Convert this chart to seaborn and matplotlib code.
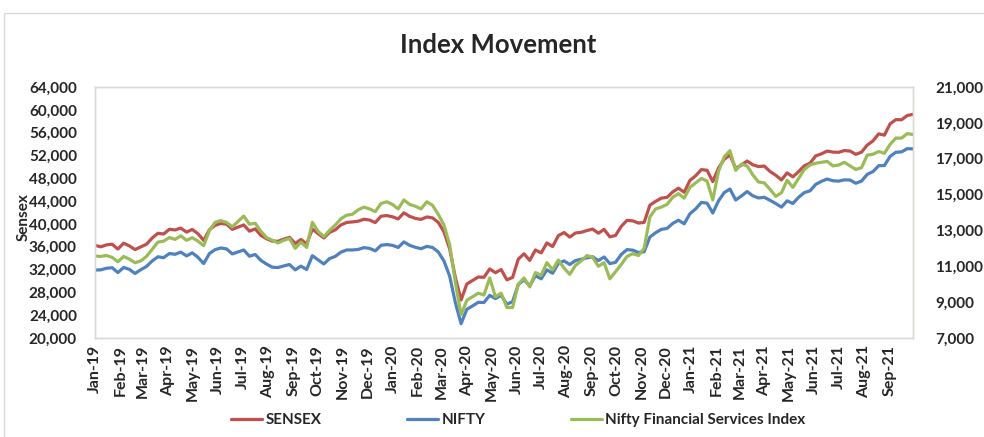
import pandas as pd
import matplotlib
matplotlib.use('Agg')
import matplotlib.pyplot as plt
import matplotlib.dates as mdates
from matplotlib.patches import Rectangle
from matplotlib.ticker import FuncFormatter, FixedLocator
import seaborn as sns

# weekly closing levels, Jan-2019 .. Sep-2021
sensex = [36250, 35980, 36320, 36440, 35590, 36620, 36150, 35500, 35970, 36440,
          37530, 38360, 38230, 39060, 38940, 39270, 38560, 39030, 38280, 37090,
          38970, 39750, 40080, 39950, 39050, 39430, 39820, 38730, 39130, 37980,
          37400, 36980, 36960, 37330, 37640, 36560, 37270, 36480, 39090, 38310,
          37530, 38510, 38960, 39830, 40250, 40350, 40470, 40820, 40680, 40240,
          41350, 41460, 41250, 40870, 41950, 41320, 40970, 40790, 41220, 41060,
          40280, 38620, 35630, 30580, 26670, 29470, 30070, 30690, 30640, 32110,
          31450, 32000, 30200, 30610, 33830, 34760, 33600, 35430, 34920, 36670,
          36030, 37930, 38490, 37690, 38410, 38530, 38840, 39090, 38370, 39040,
          37730, 37980, 39570, 40630, 40540, 40150, 40260, 43280, 43950, 44520,
          44650, 45610, 46260, 45550, 47610, 48440, 49520, 49400, 47410, 49800,
          51330, 52100, 49750, 50300, 51030, 50360, 50050, 50140, 49200, 48540,
          47710, 48940, 48250, 49160, 50190, 50640, 51930, 52280, 52770, 52590,
          52550, 52860, 52770, 52200, 52580, 53820, 54550, 55790, 55560, 57550,
          58280, 58250, 59010, 59200]

nifty = [10790, 10800, 10890, 10920, 10650, 10930, 10830, 10600, 10810, 10990,
         11300, 11530, 11480, 11710, 11670, 11790, 11580, 11750, 11500, 11150,
         11710, 11930, 12020, 11970, 11690, 11800, 11910, 11560, 11660, 11330,
         11120, 10950, 10930, 11020, 11100, 10800, 11010, 10820, 11590, 11360,
         11130, 11430, 11550, 11790, 11910, 11910, 11940, 12040, 12000, 11860,
         12170, 12210, 12170, 12050, 12360, 12170, 12060, 11980, 12110, 12050,
         11800, 11300, 10450, 8970, 7800, 8600, 8790, 8990, 8980, 9380,
         9200, 9380, 8880, 9030, 9980, 10250, 9910, 10470, 10300, 10800,
         10610, 11160, 11300, 11100, 11320, 11390, 11470, 11530, 11320, 11520,
         11150, 11220, 11660, 11930, 11900, 11770, 11810, 12630, 12870, 13060,
         13110, 13390, 13570, 13370, 13930, 14200, 14560, 14520, 13970, 14650,
         15110, 15310, 14700, 14920, 15170, 14930, 14810, 14850, 14680, 14500,
         14300, 14650, 14500, 14850, 15110, 15210, 15570, 15740, 15870, 15770,
         15750, 15820, 15810, 15630, 15750, 16130, 16280, 16610, 16620, 17130,
         17360, 17380, 17560, 17550]

nifty_fin = [11570, 11550, 11600, 11500, 11250, 11550, 11400, 11200, 11300, 11550,
             11950, 12350, 12400, 12600, 12500, 12700, 12450, 12600, 12400, 12150,
             13000, 13450, 13550, 13450, 13200, 13500, 13800, 13350, 13400, 12950,
             12600, 12450, 12300, 12450, 12550, 12000, 12350, 12050, 13450, 12950,
             12650, 13000, 13300, 13650, 13850, 13900, 14150, 14300, 14200, 14050,
             14500, 14600, 14450, 14200, 14700, 14450, 14350, 14200, 14600, 14400,
             13900, 13300, 12200, 10100, 8300, 9100, 9300, 9500, 9400, 10350,
             9300, 9500, 8700, 8700, 10000, 10350, 9850, 10650, 10500, 11200,
             10800, 11350, 10900, 10550, 11050, 11300, 11600, 11500, 11000, 11200,
             10300, 10700, 11100, 11550, 11700, 11600, 12000, 13750, 14200, 14300,
             14450, 14850, 15050, 14800, 15400, 15650, 15900, 15750, 14700, 16300,
             17100, 17450, 16350, 16700, 16600, 16100, 15700, 15650, 15300, 14900,
             15100, 15800, 15400, 15900, 16400, 16650, 16750, 16800, 16850, 16600,
             16650, 16800, 16600, 16400, 16500, 17200, 17250, 17400, 17300, 17800,
             18150, 18150, 18400, 18350]

sensex_ticks = list(range(20000, 64001, 4000))
nifty_ticks = list(range(7000, 21001, 2000))

dates = pd.date_range('2019-01-01', '2021-09-30', periods=len(sensex))

df = pd.DataFrame({'date': dates, 'SENSEX': sensex, 'NIFTY': nifty,
                   'Nifty Financial Services Index': nifty_fin})

sns.set_style('white')
plt.rcParams['font.family'] = ['Lato', 'DejaVu Sans']
plt.rcParams['font.weight'] = 'bold'

red, blue, green = '#c0504d', '#4f81bd', '#9bbb59'
lw = 2.3

fig = plt.figure(figsize=(9.84, 4.37), dpi=100)
ax = fig.add_axes([95 / 984, 1 - 338 / 437, (913 - 95) / 984, (338 - 87) / 437])
ax2 = ax.twinx()

sns.lineplot(data=df, x='date', y='SENSEX', ax=ax, color=red, lw=lw, label='SENSEX', legend=False)
sns.lineplot(data=df, x='date', y='NIFTY', ax=ax2, color=blue, lw=lw, label='NIFTY', legend=False)
sns.lineplot(data=df, x='date', y='Nifty Financial Services Index', ax=ax2, color=green, lw=lw,
             label='Nifty Financial Services Index', legend=False)

ax.set_ylim(sensex_ticks[0], sensex_ticks[-1])
ax.yaxis.set_major_locator(FixedLocator(sensex_ticks))
ax2.set_ylim(nifty_ticks[0], nifty_ticks[-1])
ax2.yaxis.set_major_locator(FixedLocator(nifty_ticks))
fmt = FuncFormatter(lambda v, p: f'{v:,.0f}')
ax.yaxis.set_major_formatter(fmt)
ax2.yaxis.set_major_formatter(fmt)

ax.set_xlim(pd.Timestamp('2019-01-01'), pd.Timestamp('2021-09-30'))
ax.xaxis.set_major_locator(mdates.MonthLocator())
ax.xaxis.set_major_formatter(mdates.DateFormatter('%b-%y'))
ax.tick_params(axis='x', rotation=90, length=0, pad=5, labelsize=11.5)
ax.tick_params(axis='y', length=0, pad=13, labelsize=11)
ax2.tick_params(axis='y', length=0, pad=16, labelsize=11)
for lab in ax2.get_yticklabels():
    lab.set_horizontalalignment('left')

ax.set_xlabel('')
ax.set_ylabel('Sensex', fontsize=11, fontweight='bold')
ax.yaxis.set_label_coords(-0.078, 0.48)
ax2.set_ylabel('')

for a in (ax, ax2):
    for s in a.spines.values():
        s.set_color('#dcdad3')
        s.set_linewidth(1)

fig.suptitle('Index Movement', x=0.506, y=0.925, fontsize=18.5, fontweight='bold')

h1, l1 = ax.get_legend_handles_labels()
h2, l2 = ax2.get_legend_handles_labels()
fig.legend(h1 + h2, l1 + l2, loc='center', bbox_to_anchor=(0.527, 0.038), ncol=3,
           frameon=False, fontsize=11, handlelength=2.0, columnspacing=5.6, handletextpad=0.25)

# outer chart border
fig.patches.append(Rectangle((4 / 984, -0.01), 1.0, 1 - 13 / 437 + 0.01, transform=fig.transFigure,
                             fill=False, edgecolor='#d9d9d9', lw=1))

fig.savefig('out.png', dpi=100)
